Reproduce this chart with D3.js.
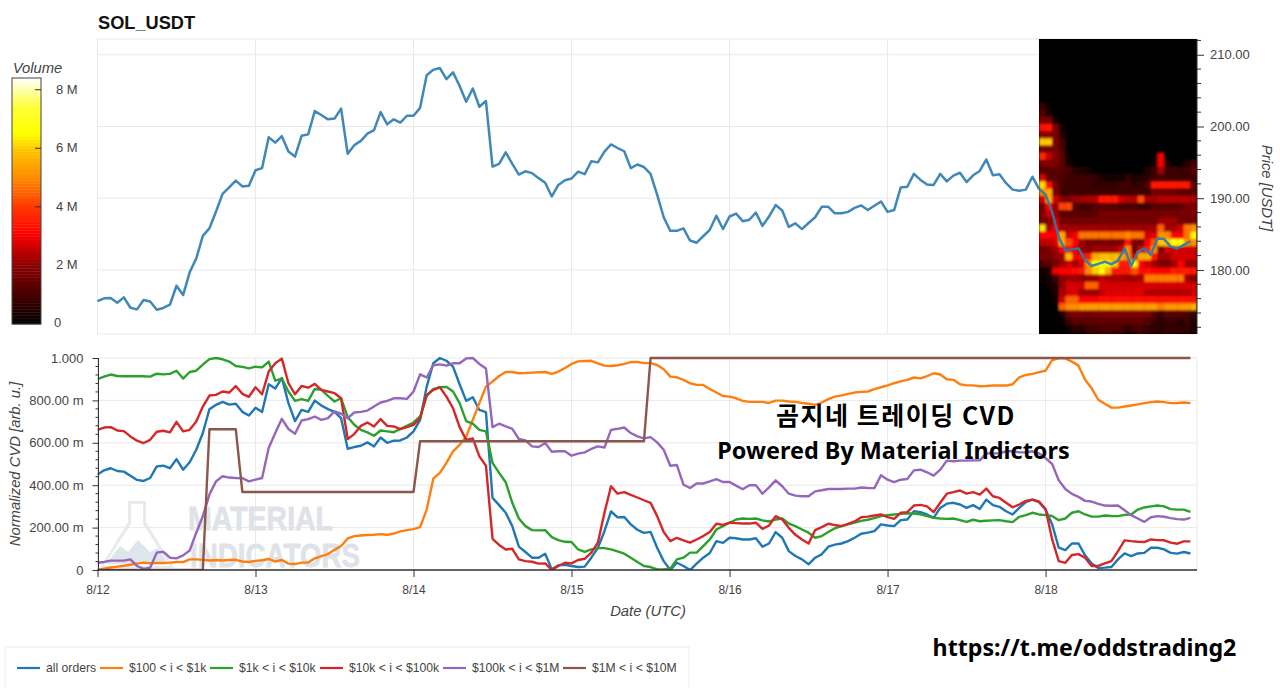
<!DOCTYPE html>
<html><head><meta charset="utf-8">
<style>html,body{margin:0;padding:0;background:#fff;overflow:hidden}svg{display:block}text{font-family:"Liberation Sans",Arial,sans-serif}</style>
<script src="https://cdn.jsdelivr.net/npm/d3@7/dist/d3.min.js"></script></head><body>
<svg id="c" width="1280" height="688"></svg>
<script>
const priceValues=[175.66,176.04,176.08,175.43,176.18,174.73,174.5,175.8,175.6,174.45,174.7,175.15,177.8,176.5,179.67,181.6,184.75,185.8,188.15,190.6,191.5,192.45,191.65,191.75,193.9,194.2,198.5,197.75,198.65,196.5,195.8,198.7,198.9,202.15,201.6,201,201.1,202.5,196.2,197.4,198,199,199.5,202,200.3,201,200.55,201.5,201.5,202.6,207.15,207.9,208.15,206.6,207.55,205.65,203.45,205.3,202.75,203.55,194.4,194.8,196.4,194.8,193.3,193.75,193.5,192.8,192.15,190.25,191.85,192.5,192.75,193.7,193.35,195.15,195,196.5,197.5,197,196.55,194.2,194.7,194.35,193.4,190.5,187.35,185.45,185.45,185.8,184.1,183.8,184.7,185.6,187.55,185.7,187.45,187.85,186.8,187,188,186.15,187.45,189.05,188.3,186,186.5,185.7,186.55,187.35,188.8,188.8,187.9,187.9,188.1,188.65,189,188.35,188.95,189.55,188.1,188.35,191.5,191.6,193.4,192.55,191.9,191.85,193.4,192.35,193.15,193.55,192.25,193.2,193.8,195.4,193.2,193.35,192.1,191.2,191.05,191.2,193,191.3,190.5,188.1,184.6,182.7,182.9,183,181.4,180.55,180.85,181.15,180.8,181.3,183,180.55,182.55,183,182.1,184.4,184.3,183.25,182.95,183.5,184];
const cvdAll=[.45,.47,.48,.467,.464,.445,.425,.42,.434,.489,.492,.48,.523,.473,.508,.567,.646,.758,.779,.793,.78,.784,.746,.729,.765,.745,.876,.856,.906,.787,.702,.755,.746,.799,.776,.759,.746,.716,.572,.58,.586,.602,.583,.625,.6,.61,.611,.625,.654,.708,.865,.975,1,.987,.959,.876,.798,.815,.755,.745,.34,.306,.27,.207,.11,.085,.058,.058,.077,.003,.022,.025,.019,.014,.016,.058,.105,.183,.276,.248,.25,.215,.19,.175,.18,.105,.042,0,.034,.019,0,.03,.058,.08,.136,.128,.152,.15,.144,.144,.15,.11,.125,.179,.152,.089,.066,.05,.027,.058,.074,.11,.12,.125,.136,.152,.171,.176,.183,.215,.21,.207,.235,.238,.277,.273,.262,.246,.293,.313,.317,.309,.293,.306,.288,.332,.306,.298,.277,.262,.293,.32,.332,.32,.285,.215,.105,.094,.125,.125,.069,.031,.009,.011,.014,.05,.078,.066,.078,.081,.105,.105,.097,.081,.077,.085,.078];
const cvd100=[0,.006,.012,.016,.02,.025,.03,.035,.032,.033,.033,.035,.038,.037,.05,.05,.048,.045,.047,.045,.047,.048,.04,.038,.043,.046,.052,.04,.047,.03,.028,.035,.035,.055,.065,.075,.095,.113,.149,.16,.163,.165,.166,.169,.166,.172,.182,.188,.193,.202,.285,.431,.458,.505,.56,.59,.63,.708,.787,.865,.889,.915,.934,.934,.928,.929,.931,.933,.934,.925,.936,.953,.972,.984,.986,.987,.975,.964,.962,.966,.972,.981,.981,.976,.976,.967,.947,.912,.909,.897,.881,.873,.873,.854,.837,.821,.818,.81,.798,.793,.793,.793,.788,.799,.799,.795,.793,.788,.784,.779,.79,.806,.818,.824,.831,.837,.84,.842,.853,.862,.871,.881,.89,.897,.908,.904,.915,.928,.922,.9,.897,.876,.871,.871,.867,.868,.87,.87,.87,.876,.909,.92,.925,.933,.94,.99,.998,.998,.983,.964,.897,.857,.803,.784,.766,.766,.771,.776,.781,.787,.792,.795,.792,.787,.788,.79,.787];
const cvd1k=[.9,.912,.922,.915,.914,.914,.914,.914,.912,.926,.923,.925,.94,.903,.934,.94,.969,.995,1,.994,.983,.962,.958,.951,.959,.956,.983,.893,.903,.842,.798,.806,.798,.854,.85,.821,.795,.81,.721,.685,.661,.649,.633,.658,.654,.65,.665,.68,.696,.724,.821,.853,.862,.864,.842,.787,.702,.69,.661,.654,.505,.458,.414,.317,.243,.207,.188,.187,.188,.155,.141,.133,.132,.097,.085,.097,.103,.103,.097,.088,.077,.058,.038,.019,.014,.003,.003,.006,.05,.058,.082,.082,.113,.144,.191,.207,.223,.238,.243,.241,.243,.234,.229,.238,.243,.219,.207,.191,.176,.152,.16,.179,.197,.207,.215,.224,.232,.237,.245,.254,.259,.262,.265,.268,.266,.263,.254,.246,.243,.241,.243,.235,.227,.237,.23,.232,.234,.235,.23,.226,.251,.259,.27,.262,.259,.255,.235,.243,.27,.277,.262,.252,.252,.257,.255,.254,.26,.262,.285,.295,.3,.304,.3,.287,.285,.285,.274];
const cvd10k=[.661,.672,.674,.658,.655,.63,.61,.599,.614,.652,.657,.649,.699,.654,.661,.7,.771,.823,.826,.842,.837,.868,.831,.817,.862,.829,.936,.975,.997,.881,.829,.868,.86,.878,.85,.842,.834,.81,.618,.641,.68,.696,.677,.712,.68,.677,.665,.674,.685,.716,.826,.85,.862,.818,.763,.674,.614,.621,.536,.492,.147,.118,.097,.1,.05,.042,.039,.03,.031,0,.019,.034,.031,.047,.053,.082,.129,.27,.395,.36,.367,.354,.342,.329,.317,.254,.179,.136,.152,.14,.129,.144,.16,.179,.218,.213,.223,.221,.219,.219,.223,.194,.21,.254,.238,.199,.166,.144,.125,.188,.202,.218,.212,.207,.218,.229,.249,.252,.257,.262,.249,.241,.27,.273,.304,.307,.3,.273,.317,.36,.367,.375,.36,.367,.356,.384,.348,.34,.317,.296,.309,.326,.332,.323,.288,.144,.042,.034,.071,.075,.058,.019,.019,.031,.042,.089,.14,.136,.133,.132,.144,.141,.14,.129,.124,.135,.135];
const cvd100k=[.034,.038,.044,.044,.044,.05,.019,.005,.011,.082,.086,.058,.055,.069,.092,.176,.254,.356,.418,.442,.436,.434,.433,.418,.426,.434,.575,.646,.713,.665,.643,.705,.712,.724,.708,.716,.748,.737,.716,.743,.746,.752,.771,.79,.798,.81,.81,.807,.842,.923,.908,.966,.97,.964,.975,.975,.998,1,.972,.951,.674,.69,.677,.666,.618,.611,.583,.58,.599,.558,.56,.56,.539,.549,.555,.571,.583,.578,.661,.666,.672,.646,.63,.621,.627,.602,.567,.492,.495,.403,.387,.408,.408,.418,.429,.415,.415,.398,.381,.4,.4,.36,.39,.423,.395,.36,.351,.348,.348,.371,.376,.382,.382,.382,.384,.384,.389,.387,.386,.447,.426,.415,.426,.429,.47,.473,.461,.445,.473,.516,.513,.516,.516,.517,.517,.55,.55,.55,.56,.56,.555,.555,.56,.55,.528,.5,.423,.382,.359,.345,.326,.323,.312,.304,.303,.304,.282,.259,.243,.227,.249,.254,.251,.245,.24,.238,.246];
const cvd1M=[0,0,0,0,0,0,0,0,0,0,0,0,0,0,0,0,0,.664,.664,.664,.664,.664,.368,.368,.368,.368,.368,.368,.368,.368,.368,.368,.368,.368,.368,.368,.368,.368,.368,.368,.368,.368,.368,.368,.368,.368,.368,.368,.368,.607,.607,.607,.607,.607,.607,.607,.607,.607,.607,.607,.607,.607,.607,.607,.607,.607,.607,.607,.607,.607,.607,.607,.607,.607,.607,.607,.607,.607,.607,.607,.607,.607,.607,.607,1,1,1,1,1,1,1,1,1,1,1,1,1,1,1,1,1,1,1,1,1,1,1,1,1,1,1,1,1,1,1,1,1,1,1,1,1,1,1,1,1,1,1,1,1,1,1,1,1,1,1,1,1,1,1,1,1,1,1,1,1,1,1,1,1,1,1,1,1,1,1,1,1,1,1,1,1,1,1,1,1,1,1];
const seriesNames=["all orders","$100 < i < $1k","$1k < i < $10k","$10k < i < $100k","$100k < i < $1M","$1M < i < $10M"];
const seriesColors=["#1f77b4","#ff7f0e","#2ca02c","#d62728","#9467bd","#8c564b"];
const heatStartHour=143;
const heatPrices=[203,202,201,200,199,198,197,196,195,194,193,192,191,190,189,188,187,186,185,184,183,182,181,180,179,178,177,176,175,174,173,172,171];
const heatVolumes=[
[.8,.2],
[1.2,.3],
[1.8,1.8,.3],
[3.3,3.4,1.8,.3],
[2,2,1.8,.6],
[6,6,1.8,1],
[1.8,1.8,1.8,1.1],
[3.7,2.6,1.8,1.3,.2,0,0,0,0,0,0,0,0,0,0,0,0,0,3],
[1.8,1.8,1.8,1.3,.4,0,0,0,0,0,0,0,0,0,0,0,0,.3,3,.5,0,0,.5,1],
[1.3,1.3,1.3,1.3,1.1,.6,.5,.3,0,0,0,0,0,0,0,0,.5,.8,2.2,.9,.9,.8,.9,1.3],
[2.8,1.3,1.3,1.1,.9,.9,.9,.9,.7,.5,.3,.3,.3,.7,.5,.5,.7,.9,1.1,.9,.9,.9,.9,.9],
[6.2,3.3,1.8,1.1,.9,.9,.9,.9,.7,.7,.7,.7,.9,.9,.7,.7,1.2,3.4,3.5,3.4,3.4,3.4,3.4,1.3],
[5,5.5,1.8,.9,.9,.9,.9,.9,.9,.9,.9,.9,.9,.9,.9,.9,.9,1.6,1.6,1.6,1.6,1.3,1.3,1.3],
[2.7,5.5,2.6,1.9,1.9,2.1,2.2,2.3,2.3,3.4,3.5,3.5,2.6,2.4,2.4,4.2,2.2,2.2,2.4,2.4,2.4,2.4,2.4,2.3],
[1.8,3.2,2.2,4.1,4.2,1.3,.9,.9,1.3,1.3,1.3,1.3,1.1,1.1,1.1,.9,.9,1.3,1.3,1.3,1.3,1.3,1.8,1.8],
[1.8,2.7,2.2,1.3,1.3,1.3,1.3,1.3,1.3,1.7,1.7,1.7,1.7,1.7,1.7,1.7,1.7,1.7,1.7,1.7,1.7,1.7,1.7,1.9],
[1.8,1.8,2.7,1.7,1.7,1.7,1.7,1.7,1.7,1.7,1.7,1.7,1.7,1.7,1.7,1.7,1.7,1.7,2.2,2.2,2.2,1.7,1.7,1.7],
[6.3,2.2,3,2.2,2.2,2.2,2.2,2.2,2.2,2.2,2.2,2.2,2.2,2.2,2.2,2.2,2.2,2.2,4.5,2.2,2.2,2.7,4.8,5],
[3.2,3.2,3.2,5.5,2.7,3,4.7,4.7,4.7,4.7,4.7,4.7,4.7,5,4.7,4.7,2.7,2.7,5,5,3.1,3.1,4.7,6.5],
[2.5,2.5,2.7,5.5,4.3,3.1,2.2,1.8,1.8,1.8,1.8,1.8,1.8,3.4,1.8,1.6,3.1,4.3,6,6,6.5,6.5,5,5],
[1.6,1.8,2.2,3.1,3.3,2.8,2.2,1.9,2.2,2.2,2.2,2.2,2.7,5,1.8,2.7,3.6,5,1.8,2.7,2.7,2.7,2.7,2.7],
[1.8,1.8,1.9,2.2,5.8,3.1,3.3,3.6,5.5,5.8,5.8,5.8,5.5,5,2.7,5.5,5.5,3.4,2.2,2.2,2.7,2.7,2.7,2.7],
[1.1,1.3,1.8,2.2,2.7,2.2,2.8,5,6.5,6.8,6.5,6,3.6,3.6,6.5,3.1,2.7,2.2,1.8,1.8,2.2,3.1,2.2,2.2],
[.3,.5,2.9,3.1,3.1,3.3,3.5,5,6,6.5,5.5,3.5,3.4,3.4,4.3,3.3,3.3,3.2,3.2,3.2,3.6,3.5,3.6,3.4],
[.2,.3,.9,2,2.2,2.2,2,2.1,2.1,2.5,2.3,2.3,2.3,2.2,2.2,2.3,4.8,4.8,4.8,4.8,4.8,4.8,2.3,1.9],
[0,.2,.5,2,2.7,2.7,2.7,4.5,4.5,2.7,2.7,2.7,2.7,2.7,2.7,2.7,2.7,2.7,2.7,2.7,2.7,2.7,2.7,2.7],
[0,0,.4,2.2,2.7,2.8,2.2,2.2,2.2,2.5,2.8,2.8,2.8,2.8,2.8,2.8,2.4,2.4,2.4,2.4,2.4,2.4,2.4,2.7],
[0,0,.2,2.7,4.5,4.5,3.1,3.1,3.1,3.3,3.3,3.3,3.3,3.3,3.3,3.3,3.3,3.3,3.3,3.3,3.3,3.3,3.3,3.3],
[0,0,0,4.5,5,5,5.3,5.3,5.3,5.3,5.3,5.3,5.3,5.3,5.3,5.3,5.3,5.3,4.8,5.2,5.2,5.2,5.2,5.6],
[0,0,0,.4,1.6,1.8,1.8,1.6,1.8,1.8,1.8,1.8,1.8,1.8,1.8,1.8,1.8,1.3,.8,1.3,1.3,1.3,1.1,.8],
[0,0,0,0,.9,1.3,1.3,1.3,1.4,1.4,1.4,1.4,1.4,1.4,1.4,1.4,1.2,.9,.6,.8,.8,.5,.9,.4],
[0,0,0,0,.2,.6,.5,.9,.9,1.1,1.1,1.1,1,.6,.9,1.1,.8,.6,.6,.7,.7,.7,.7,.4],
[0,0,0,0,0,.2,.3,.5,.7,.8,.8,.8,.6,.3,.5,.7,.6,.5,.5,.6,.6,.5,.4,.3]
];
const priceTicks=[180,190,200,210];
const cvdTicks=[0,.2,.4,.6,.8,1];
const cvdTickLabels=["0","200.00 m","400.00 m","600.00 m","800.00 m","1.000"];
const volumeTicks=[0,2,4,6,8];
const volumeTickLabels=["0","2 M","4 M","6 M","8 M"];
const colorStops=[0,2,3.1,4,5,6,6.5,7.4,8.4];
const colorValues=["#000000","#8b0000","#ff0000","#ff3800","#ff8c00","#ffc800","#ffff00","#ffff30","#ffffff"];

const svg=d3.select("#c");
const t0=Date.UTC(2025,7,12),H=3600e3;
const tAt=h=>new Date(t0+h*H);
const L=97.5,R=1197,T1=39,B1=334,T2=358,B2=570;
const x=d3.scaleUtc().domain([tAt(0),tAt(167)]).range([L,R]);
const yP=d3.scaleLinear().domain([171.07,212.2]).range([B1,T1]);
const yC=d3.scaleLinear().domain([0,1]).range([B2,T2]);
const color=d3.scaleLinear().domain(colorStops).range(colorValues);
const yV=d3.scaleLinear().domain([0,8.4]).range([324,78]);
const GRID="#e9e9e9",TXT="#444444",AX="#333333";
const days=x.ticks(d3.utcDay.every(1)).filter(d=>+d<=+x.domain()[1]);
const defs=svg.append("defs");
defs.append("clipPath").attr("id","hc").append("rect").attr("x",x(tAt(heatStartHour))).attr("y",T1).attr("width",R-x(tAt(heatStartHour))).attr("height",B1-T1);
defs.append("clipPath").attr("id","cc").append("rect").attr("x",L).attr("y",T2-3).attr("width",R-L).attr("height",B2-T2+3);
defs.append("filter").attr("id","soft").attr("x","-2%").attr("y","-2%").attr("width","104%").attr("height","104%").append("feGaussianBlur").attr("stdDeviation",.8);

// grids
const gridG=svg.append("g").attr("stroke",GRID).attr("stroke-width",1).attr("fill","none");
gridG.append("rect").attr("x",L).attr("y",T1).attr("width",R-L).attr("height",B1-T1);
gridG.selectAll(".v1").data(days).join("line").attr("x1",d=>x(d)).attr("x2",d=>x(d)).attr("y1",T1).attr("y2",B1);
gridG.selectAll(".h1").data(priceTicks).join("line").attr("x1",L).attr("x2",R).attr("y1",d=>yP(d)).attr("y2",d=>yP(d));
gridG.selectAll(".v2").data(days).join("line").attr("x1",d=>x(d)).attr("x2",d=>x(d)).attr("y1",T2).attr("y2",B2);
gridG.selectAll(".h2").data(cvdTicks).join("line").attr("x1",L).attr("x2",R).attr("y1",d=>yC(d)).attr("y2",d=>yC(d));
gridG.append("line").attr("x1",R).attr("x2",R).attr("y1",T2).attr("y2",B2);

// watermark
const wm=svg.append("g");
wm.append("path").attr("d","M128 501H146V522L174 568H100L128 522Z M131 504V524L104 566H170L143 524V504Z").attr("fill","#e8ebee").attr("fill-rule","evenodd");
wm.append("path").attr("d","M106 564L120 546L128 552L138 540L150 552L158 548L168 564Z").attr("fill","#dde6ea");
wm.append("text").attr("x",188).attr("y",530).attr("font-size",34).attr("font-weight",700).attr("stroke","#dfe3e7").attr("stroke-width",.8).attr("textLength",145).attr("lengthAdjust","spacingAndGlyphs").attr("fill","#dfe3e7").text("MATERIAL");
wm.append("text").attr("x",190).attr("y",567).attr("font-size",34).attr("font-weight",700).attr("stroke","#dfe3e7").attr("stroke-width",.8).attr("textLength",170).attr("lengthAdjust","spacingAndGlyphs").attr("fill","#dfe3e7").text("INDICATORS");

// heatmap
const hx=x(tAt(heatStartHour));
svg.append("rect").attr("x",hx).attr("y",T1).attr("width",R-hx).attr("height",B1-T1).attr("fill","#000");
const heat=svg.append("g").attr("clip-path","url(#hc)").append("g").attr("filter","url(#soft)");
heatVolumes.forEach((row,i)=>{
  const p=heatPrices[i];
  heat.selectAll(null).data(row).join("rect")
    .attr("x",(d,c)=>x(tAt(heatStartHour+c)))
    .attr("y",yP(p+.35))
    .attr("width",x(tAt(1))-x(tAt(0))+.3)
    .attr("height",yP(p-.65)-yP(p+.35)+.3)
    .attr("fill",d=>color(d));
});

// price line
const priceLine=d3.line().x((d,i)=>x(tAt(i))).y(d=>yP(d));
svg.append("path").datum(priceValues).attr("d",priceLine).attr("fill","none").attr("stroke","#2a7bb0").attr("stroke-width",2.5).attr("stroke-opacity",.9).attr("stroke-linejoin","round");

// CVD lines
const cvdSeries=[cvdAll,cvd100,cvd1k,cvd10k,cvd100k,cvd1M];
const cvdLine=d3.line().x((d,i)=>x(tAt(i))).y(d=>yC(d));
svg.append("g").attr("clip-path","url(#cc)").selectAll("path").data(cvdSeries).join("path").attr("d",cvdLine).attr("fill","none")
  .attr("stroke",(d,i)=>seriesColors[i]).attr("stroke-width",2.4).attr("stroke-linejoin","round");

// axes
function style(g,size){g.selectAll("text").attr("fill",TXT).attr("font-size",size);g.selectAll("line,path").attr("stroke",AX);}
const rightAxis=svg.append("g").attr("transform",`translate(${R},0)`).call(d3.axisRight(yP).tickValues(priceTicks).tickFormat(d3.format(".2f")).tickSize(7).tickPadding(6));
rightAxis.select(".domain").attr("d",`M0,${T1}V${B1}`);
rightAxis.selectAll(null).data(d3.range(172,213,2).filter(d=>d%10)).join("line").attr("x1",0).attr("x2",4).attr("y1",d=>yP(d)).attr("y2",d=>yP(d));
style(rightAxis,13);
const leftAxis=svg.append("g").attr("transform",`translate(${L+1},0)`).call(d3.axisLeft(yC).tickValues(cvdTicks).tickFormat((d,i)=>cvdTickLabels[i]).tickSize(6).tickPadding(9));
leftAxis.select(".domain").attr("d",`M0,${T2}V${B2}`);
leftAxis.selectAll(null).data(d3.range(0,1.001,.04).filter(d=>Math.round(d*25)%5)).join("line").attr("x1",0).attr("x2",-3).attr("y1",d=>yC(d)).attr("y2",d=>yC(d));
style(leftAxis,13);
const bottomAxis=svg.append("g").attr("transform",`translate(0,${B2})`).call(d3.axisBottom(x).tickValues(days).tickFormat(d3.utcFormat("%-m/%-d")).tickSize(7).tickPadding(8));
bottomAxis.select(".domain").attr("d",`M${L},0H${R}`).attr("stroke-width",1.6);
style(bottomAxis,12);

// axis labels
const lab=(s,xx,yy,rot)=>svg.append("text").attr("transform",`translate(${xx},${yy}) rotate(${rot})`).attr("text-anchor","middle").attr("font-style","italic").attr("font-size",14.8).attr("fill",TXT).text(s);
lab("Price [USDT]",1262,188,90);
lab("Normalized CVD [arb. u.]",20,464,-90);
lab("Date (UTC)",648,616,0);
lab("Volume",37.5,73,0);
svg.append("text").attr("x",98).attr("y",29).attr("font-size",18.2).attr("font-weight",700).attr("fill","#111").text("SOL_USDT");

// colour bar
const bar=svg.append("g");
bar.selectAll("rect").data(d3.range(0,8.4,.1)).join("rect").attr("x",12).attr("width",29).attr("y",d=>yV(d+.1)).attr("height",yV(0)-yV(.1)+.4).attr("fill",d=>color(d+.05));
bar.append("rect").attr("x",12).attr("y",78).attr("width",29).attr("height",246).attr("fill","none").attr("stroke","#444");
bar.selectAll("line").data(volumeTicks.slice(1)).join("line").attr("x1",35).attr("x2",41).attr("y1",d=>yV(d)).attr("y2",d=>yV(d)).attr("stroke","#333");
bar.selectAll("text").data(volumeTicks).join("text").attr("x",d=>d?56:54).attr("y",d=>yV(d)+(d?4:3)).attr("font-size",13).attr("fill",TXT).text((d,i)=>volumeTickLabels[i]);

// legend
const legendX=[17,100,210,320,443,563];
svg.append("rect").attr("x",5).attr("y",647).attr("width",684).attr("height",50).attr("fill","#fff").attr("stroke","#eeeeee");
const leg=svg.append("g").selectAll("g").data(seriesNames).join("g").attr("transform",(d,i)=>`translate(${legendX[i]},668)`);
leg.append("line").attr("x2",23).attr("stroke",(d,i)=>seriesColors[i]).attr("stroke-width",2.2);
leg.append("text").attr("x",29).attr("y",4).attr("font-size",12.2).attr("fill",TXT).text(d=>d);

// overlays
const big=(s,xx,yy,size,fam,ls)=>svg.append("text").attr("x",xx).attr("y",yy).attr("text-anchor","middle").attr("font-size",size).attr("font-weight",700).attr("letter-spacing",ls||0).attr("fill","#000").style("font-family",fam).text(s);
big("곰지네 트레이딩 CVD",896,425,25,'"Noto Sans CJK KR"',1.5);
big("Powered By Material Indictors",893.5,459,23.4,'"Noto Sans","Noto Sans CJK KR"');
big("https://t.me/oddstrading2",1084.5,656,23.2,'"Noto Sans","Noto Sans CJK KR"');
</script></body></html>
